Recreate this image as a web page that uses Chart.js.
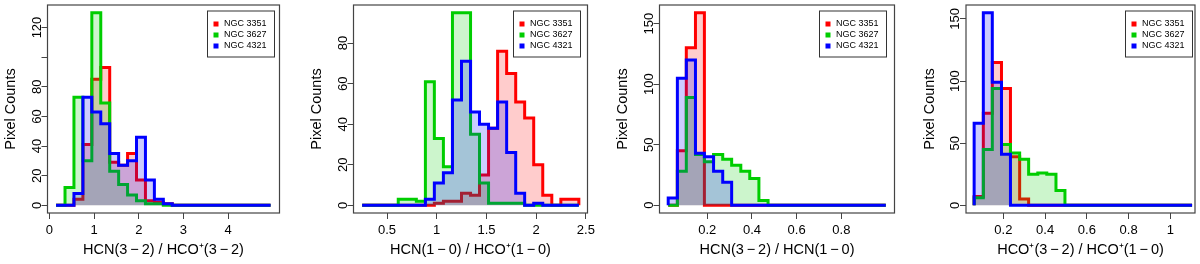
<!DOCTYPE html>
<html>
<head>
<meta charset="utf-8">
<title>Line ratio histograms</title>
<script src="https://cdn.jsdelivr.net/npm/chart.js@4.4.1/dist/chart.umd.min.js"></script>
<style>
  html, body { margin: 0; padding: 0; background: #fff; }
  #wrap { position: relative; width: 1200px; height: 264px; }
  canvas { position: absolute; top: 0; }
</style>
</head>
<body>
<div id="wrap">
  <canvas id="c1" width="300" height="264" style="left:0px"></canvas>
  <canvas id="c2" width="300" height="264" style="left:300px"></canvas>
  <canvas id="c3" width="300" height="264" style="left:600px"></canvas>
  <canvas id="c4" width="300" height="264" style="left:900px"></canvas>
</div>
<script>
// galaxies, same order in every panel
const seriesNames = ['NGC 3351', 'NGC 3627', 'NGC 4321'];
const lineColors = ['#FF0000', '#00CD00', '#0000FF'];
const fillColors = ['rgba(255,0,0,0.2)', 'rgba(0,205,0,0.2)', 'rgba(0,0,255,0.2)'];

// panel 1 : HCN(3-2) / HCO+(3-2)
const edges1 = [0.15, 0.35, 0.55, 0.75, 0.95, 1.15, 1.35, 1.55, 1.75, 1.95, 2.15, 2.35, 2.55,
  2.75, 2.95, 3.15, 3.35, 3.55, 3.75, 3.95, 4.15, 4.35, 4.55, 4.75, 4.95];
const ngc3351_1 = [0, 0, 4, 41, 85, 93, 29, 27, 35, 17, 3, 2, 1, 0, 0, 0, 0, 0, 0, 0, 0, 0, 0, 0];
const ngc3627_1 = [0, 12, 73, 30, 130, 69, 23, 14, 7, 3, 1, 1, 0, 0, 0, 0, 0, 0, 0, 0, 0, 0, 0, 0];
const ngc4321_1 = [0, 0, 8, 73, 63, 55, 35, 27, 30, 46, 17, 4, 1, 0, 0, 0, 0, 0, 0, 0, 0, 0, 0, 0];
const xTicks1 = [0, 1, 2, 3, 4];
const yTicks1 = [0, 20, 40, 60, 80, 100, 120];
const yLabels1 = ['0', '20', '40', '60', '80', '', '120'];
const xTitle1 = 'HCN(3\u2009\u2212\u20092) / HCO\u207A(3\u2009\u2212\u20092)';

// panel 2 : HCN(1-0) / HCO+(1-0)
const edges2 = [0.250, 0.341, 0.432, 0.522, 0.613, 0.704, 0.795, 0.886, 0.976, 1.067, 1.158, 1.249, 1.340,
  1.430, 1.521, 1.612, 1.703, 1.794, 1.884, 1.975, 2.066, 2.157, 2.248, 2.338, 2.429];
const ngc3351_2 = [0, 0, 0, 0, 0, 0, 0, 0, 1, 2, 2, 6, 5, 15, 38, 76, 65, 51, 43, 20, 5, 0, 3, 3];
const ngc3627_2 = [0, 0, 0, 0, 3, 3, 2, 61, 33, 19, 95, 95, 35, 11, 1, 1, 1, 1, 0, 0, 0, 0, 0, 0];
const ngc4321_2 = [0, 0, 0, 0, 0, 0, 0, 3, 11, 16, 52, 71, 46, 40, 38, 51, 26, 6, 0, 1, 0, 0, 0, 0];
const xTicks2 = [0.5, 1, 1.5, 2, 2.5];
const yTicks2 = [0, 20, 40, 60, 80];
const yLabels2 = ['0', '20', '40', '60', '80'];
const xTitle2 = 'HCN(1\u2009\u2212\u20090) / HCO\u207A(1\u2009\u2212\u20090)';

// panel 3 : HCN(3-2) / HCN(1-0)
const edges3 = [0.025, 0.066, 0.106, 0.147, 0.187, 0.228, 0.269, 0.309, 0.350, 0.390, 0.431, 0.472, 0.512,
  0.553, 0.593, 0.634, 0.675, 0.715, 0.756, 0.796, 0.837, 0.878, 0.918, 0.959, 0.999];
const ngc3351_3 = [0, 45, 130, 159, 0, 0, 0, 0, 0, 0, 0, 0, 0, 0, 0, 0, 0, 0, 0, 0, 0, 0, 0, 0];
const ngc3627_3 = [0, 28, 89, 42, 36, 42, 38, 33, 28, 22, 4, 0, 0, 0, 0, 0, 0, 0, 0, 0, 0, 0, 0, 0];
const ngc4321_3 = [6, 105, 120, 43, 40, 28, 19, 0, 0, 0, 0, 0, 0, 0, 0, 0, 0, 0, 0, 0, 0, 0, 0, 0];
const xTicks3 = [0.2, 0.4, 0.6, 0.8];
const yTicks3 = [0, 50, 100, 150];
const yLabels3 = ['0', '50', '100', '150'];
const xTitle3 = 'HCN(3\u2009\u2212\u20092) / HCN(1\u2009\u2212\u20090)';

// panel 4 : HCO+(3-2) / HCO+(1-0)
const edges4 = [0.060, 0.104, 0.147, 0.191, 0.234, 0.278, 0.321, 0.365, 0.408, 0.452, 0.495, 0.539, 0.582,
  0.626, 0.669, 0.713, 0.756, 0.800, 0.843, 0.887, 0.930, 0.974, 1.017, 1.061, 1.104];
const ngc3351_4 = [7, 74, 115, 94, 39, 5, 0, 0, 0, 0, 0, 0, 0, 0, 0, 0, 0, 0, 0, 0, 0, 0, 0, 0];
const ngc3627_4 = [6, 45, 94, 49, 42, 37, 25, 26, 25, 12, 0, 0, 0, 0, 0, 0, 0, 0, 0, 0, 0, 0, 0, 0];
const ngc4321_4 = [66, 155, 99, 41, 0, 0, 0, 0, 0, 0, 0, 0, 0, 0, 0, 0, 0, 0, 0, 0, 0, 0, 0, 0];
const xTicks4 = [0.2, 0.4, 0.6, 0.8, 1];
const yTicks4 = [0, 50, 100, 150];
const yLabels4 = ['0', '50', '100', '150'];
const xTitle4 = 'HCO\u207A(3\u2009\u2212\u20092) / HCO\u207A(1\u2009\u2212\u20090)';

const axisColor = '#444';
const fontFamily = '"Liberation Sans", Arial, Helvetica, sans-serif';
Chart.defaults.font.family = fontFamily;
Chart.defaults.color = '#000';

// left/right = plot box edges inside each 300px canvas
const panels = [
  { id: 'c1', edges: edges1, counts: [ngc3351_1, ngc3627_1, ngc4321_1], xTicks: xTicks1, yTicks: yTicks1,
    yLabels: yLabels1, xTitle: xTitle1, xMin: -0.042, xMax: 5.15, yMin: -5.2, yMax: 135.2,
    left: 47.5, right: 279.5, legendX: 207.5 },
  { id: 'c2', edges: edges2, counts: [ngc3351_2, ngc3627_2, ngc4321_2], xTicks: xTicks2, yTicks: yTicks2,
    yLabels: yLabels2, xTitle: xTitle2, xMin: 0.163, xMax: 2.516, yMin: -3.8, yMax: 98.8,
    left: 53.5, right: 287.5, legendX: 213.5 },
  { id: 'c3', edges: edges3, counts: [ngc3351_3, ngc3627_3, ngc4321_3], xTicks: xTicks3, yTicks: yTicks3,
    yLabels: yLabels3, xTitle: xTitle3, xMin: -0.014, xMax: 1.038, yMin: -6.4, yMax: 165.4,
    left: 59.5, right: 294.5, legendX: 219.5 },
  { id: 'c4', edges: edges4, counts: [ngc3351_4, ngc3627_4, ngc4321_4], xTicks: xTicks4, yTicks: yTicks4,
    yLabels: yLabels4, xTitle: xTitle4, xMin: 0.021, xMax: 1.118, yMin: -6.2, yMax: 161.2,
    left: 66, right: 295, legendX: 225.5 }
];

// histogram outline: start and end on the baseline, one step per bin
function histPoints(edges, counts) {
  const pts = [{ x: edges[0], y: 0 }];
  counts.forEach((c, i) => pts.push({ x: edges[i], y: c }));
  pts.push({ x: edges[edges.length - 1], y: 0 });
  return pts;
}

// R-like bits: box round the plot, vertical y tick labels, boxed legend
const rStyle = {
  id: 'rStyle',
  afterDraw(chart, args, opts) {
    const { ctx, chartArea: a, scales: { y } } = chart;
    ctx.save();
    ctx.strokeStyle = axisColor;
    ctx.lineWidth = 1.2;
    ctx.strokeRect(a.left, a.top, a.right - a.left, a.bottom - a.top);

    ctx.fillStyle = '#000';
    ctx.font = '13px ' + fontFamily;
    ctx.textAlign = 'center';
    ctx.textBaseline = 'alphabetic';
    opts.yTicks.forEach((v, i) => {
      ctx.save();
      ctx.translate(a.left - 7, y.getPixelForValue(v));
      ctx.rotate(-Math.PI / 2);
      ctx.fillText(opts.yLabels[i], 0, 0);
      ctx.restore();
    });

    const lx = opts.legendX, ly = a.top + 6, lw = 67, lh = 46;
    ctx.fillStyle = '#fff';
    ctx.fillRect(lx, ly, lw, lh);
    ctx.strokeStyle = '#333';
    ctx.lineWidth = 1;
    ctx.strokeRect(lx, ly, lw, lh);
    ctx.font = '9px ' + fontFamily;
    ctx.textAlign = 'left';
    ctx.textBaseline = 'middle';
    seriesNames.forEach((name, i) => {
      const cy = ly + 13 + i * 11;
      ctx.fillStyle = lineColors[i];
      ctx.fillRect(lx + 6, cy - 2.5, 5, 5);
      ctx.fillStyle = '#000';
      ctx.fillText(name, lx + 16.5, cy);
    });
    ctx.restore();
  }
};

panels.forEach(p => {
  new Chart(document.getElementById(p.id), {
    type: 'line',
    data: {
      datasets: p.counts.map((c, i) => ({
        label: seriesNames[i],
        data: histPoints(p.edges, c),
        stepped: true,
        borderColor: lineColors[i],
        backgroundColor: fillColors[i],
        borderWidth: 3,
        fill: 'origin',
        pointRadius: 0,
        order: 3 - i
      }))
    },
    options: {
      responsive: false,
      animation: false,
      devicePixelRatio: 1,
      layout: { padding: { left: p.left - 46, right: 300 - p.right, top: 5, bottom: 0 } },
      plugins: {
        legend: { display: false },
        tooltip: { enabled: false },
        rStyle: { yTicks: p.yTicks, yLabels: p.yLabels, legendX: p.legendX }
      },
      scales: {
        x: {
          type: 'linear',
          min: p.xMin,
          max: p.xMax,
          afterBuildTicks: s => { s.ticks = p.xTicks.map(v => ({ value: v })); },
          afterFit: s => { s.height = 51; },
          ticks: { callback: v => String(v), font: { size: 13 }, color: '#000', padding: 4, maxRotation: 0, autoSkip: false },
          grid: { drawOnChartArea: false, drawTicks: true, tickLength: 6, color: axisColor },
          border: { display: false },
          title: { display: true, text: p.xTitle, font: { size: 14.5 }, color: '#000', padding: { top: 0, bottom: 5 } }
        },
        y: {
          type: 'linear',
          min: p.yMin,
          max: p.yMax,
          afterBuildTicks: s => { s.ticks = p.yTicks.map(v => ({ value: v })); },
          afterFit: s => { s.width = 46; },
          ticks: { display: false },
          grid: { drawOnChartArea: false, drawTicks: true, tickLength: 6, color: axisColor },
          border: { display: false },
          title: { display: true, text: 'Pixel Counts', font: { size: 14.5 }, color: '#000', padding: { top: 1, bottom: 0 } }
        }
      }
    },
    plugins: [rStyle]
  });
});
</script>
</body>
</html>
